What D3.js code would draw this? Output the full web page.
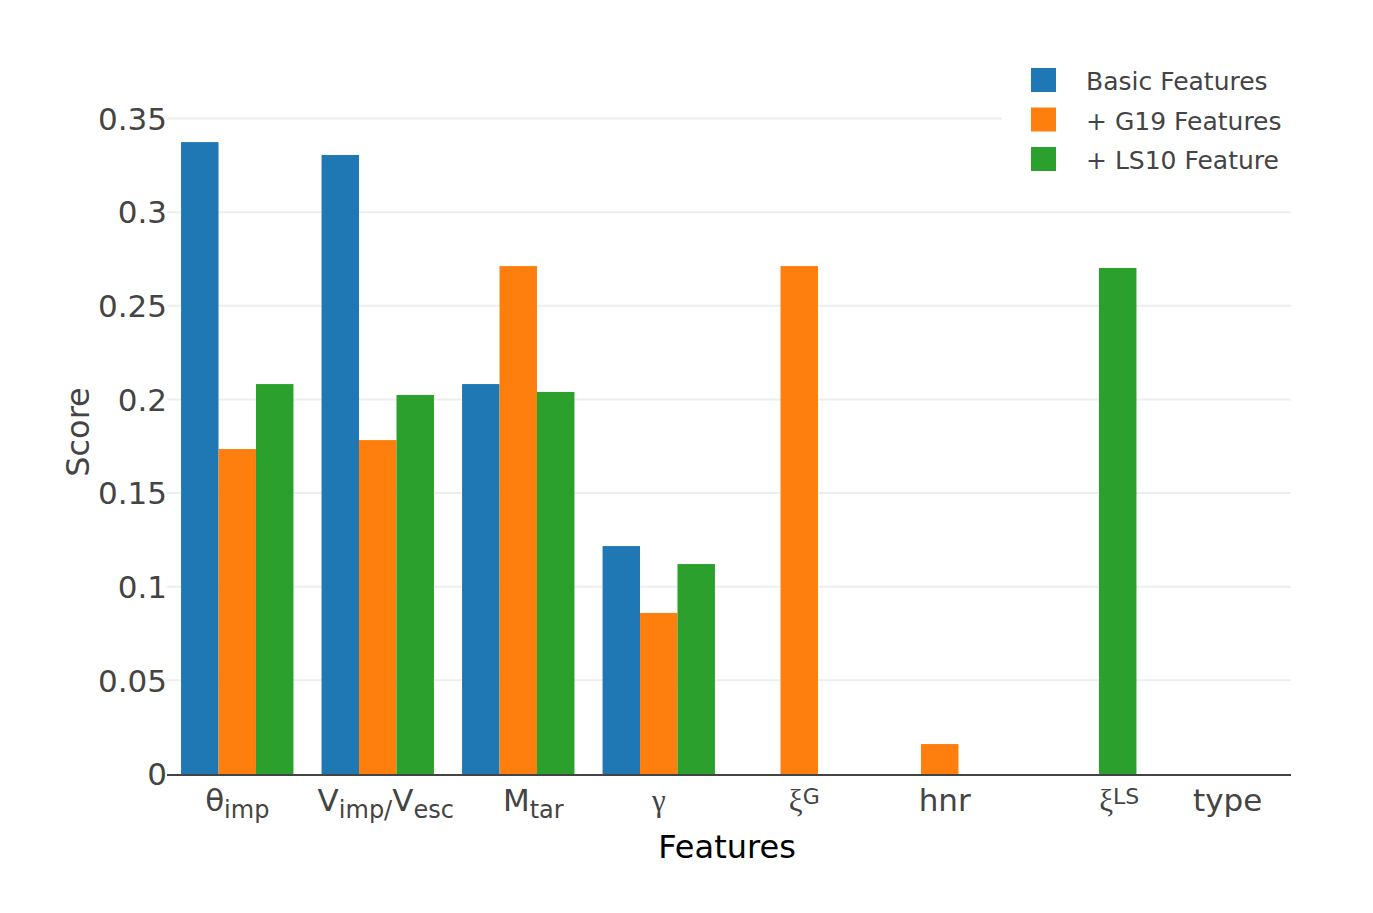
<!DOCTYPE html>
<html>
<head>
<meta charset="utf-8">
<script src="https://cdn.jsdelivr.net/npm/d3@7"></script>
<style>
  body { margin: 0; background: #fff; }
  svg text { font-family: "DejaVu Sans", Verdana, sans-serif; }
</style>
</head>
<body>
<div id="chart"></div>
<script>
// categories on the x axis (kept as plain keys, labels drawn with sub/superscripts below)
var categories = ["theta_imp", "v_ratio", "m_tar", "gamma", "xi_g", "hnr", "xi_ls", "type"];

// label pieces: [text, mode] where mode is "", "sub", "sup" or "greek"
var categoryLabels = [
  [["θ", ""], ["imp", "sub"]],
  [["V", ""], ["imp/", "sub"], ["V", ""], ["esc", "sub"]],
  [["M", ""], ["tar", "sub"]],
  [["γ", "greek"]],
  [["ξ", "greek"], ["G", "sup"]],
  [["hnr", ""]],
  [["ξ", "greek"], ["LS", "sup"]],
  [["type", ""]]
];

var seriesNames = ["Basic Features", "+ G19 Features", "+ LS10 Feature"];
var basicValues = [0.3374, 0.3305, 0.2082, 0.1217, 0, 0, 0, 0];
var g19Values   = [0.1735, 0.1783, 0.2712, 0.0860, 0.2712, 0.0160, 0, 0];
var ls10Values  = [0.2082, 0.2024, 0.2040, 0.1121, 0, 0, 0.2702, 0];
var yTicks = [0, 0.05, 0.1, 0.15, 0.2, 0.25, 0.3, 0.35];
var colors = ["#1f77b4", "#ff7f0e", "#2ca02c"];

// layout
var width = 1373, height = 913;
var margin = { top: 80, right: 82, bottom: 139, left: 167 };
var plotW = width - margin.left - margin.right,
    plotH = height - margin.top - margin.bottom;
// horizontal nudges of the x tick labels (the rendered math labels sit off-centre)
var labelNudge = [0, 8, 15, 0, 5, 5, 39, 7];

var svg = d3.select("#chart").append("svg")
  .attr("width", width)
  .attr("height", height);

var g = svg.append("g")
  .attr("transform", "translate(" + margin.left + "," + margin.top + ")");

// scales
var y = d3.scaleLinear()
  .domain([0, 0.35 * plotH / (plotH - 38.5)])
  .range([plotH, 0]);

var x = d3.scaleBand()
  .domain(categories)
  .range([0, plotW])
  .paddingInner(0.2)
  .paddingOuter(0.1);

var xInner = d3.scaleBand()
  .domain(seriesNames)
  .range([0, x.bandwidth()]);

// gridlines
g.append("g")
  .selectAll("line")
  .data(yTicks.filter(function (d) { return d > 0; }))
  .enter()
  .append("line")
  .attr("x1", 0)
  .attr("x2", plotW)
  .attr("y1", function (d) { return y(d); })
  .attr("y2", function (d) { return y(d); })
  .attr("stroke", "#eeeeee")
  .attr("stroke-width", 2);

// y tick labels
g.append("g")
  .selectAll("text")
  .data(yTicks)
  .enter()
  .append("text")
  .attr("x", 0)
  .attr("y", function (d) { return y(d); })
  .attr("dy", "0.36em")
  .attr("text-anchor", "end")
  .style("font-size", "31px")
  .style("fill", "#444")
  .text(function (d) { return d === 0 ? "0" : d3.format("")(+d.toFixed(2)); });

// bars
var allSeries = [basicValues, g19Values, ls10Values];
allSeries.forEach(function (vals, si) {
  g.append("g")
    .selectAll("rect")
    .data(vals)
    .enter()
    .append("rect")
    .attr("x", function (d, i) { return x(categories[i]) + xInner(seriesNames[si]); })
    .attr("y", function (d) { return y(d); })
    .attr("width", xInner.bandwidth())
    .attr("height", function (d) { return plotH - y(d); })
    .attr("fill", colors[si]);
});

// bottom axis line
g.append("line")
  .attr("x1", 0)
  .attr("x2", plotW)
  .attr("y1", plotH + 1)
  .attr("y2", plotH + 1)
  .attr("stroke", "#444")
  .attr("stroke-width", 2);

// x tick labels with sub/superscripts
var xl = g.append("g");
categories.forEach(function (c, i) {
  var t = xl.append("text")
    .attr("x", x(c) + x.bandwidth() / 2 + labelNudge[i])
    .attr("y", plotH + 37)
    .attr("text-anchor", "middle")
    .style("font-size", "31px")
    .style("fill", "#444");
  var shift = 0;
  categoryLabels[i].forEach(function (p) {
    var s = t.append("tspan").text(p[0]);
    var target = 0;
    if (p[1] === "sub") { s.style("font-size", "24px"); target = 7; }
    else if (p[1] === "sup") { s.style("font-size", "22px"); target = -7; }
    else if (p[1] === "greek") { s.style("font-family", "'Liberation Serif', serif"); }
    if (target !== shift) { s.attr("dy", target - shift); shift = target; }
  });
});

// axis titles
svg.append("text")
  .attr("x", margin.left + plotW / 2 - 2)
  .attr("y", 858)
  .attr("text-anchor", "middle")
  .style("font-size", "32px")
  .style("fill", "#000")
  .text("Features");

svg.append("text")
  .attr("transform", "translate(89," + (margin.top + plotH / 2 + 5) + ")rotate(-90)")
  .attr("text-anchor", "middle")
  .style("font-size", "32px")
  .style("fill", "#444")
  .text("Score");

// legend with white background
var legend = svg.append("g")
  .attr("transform", "translate(1002,56)");
legend.append("rect")
  .attr("width", 300)
  .attr("height", 126)
  .attr("fill", "#fff");
seriesNames.forEach(function (name, i) {
  var row = legend.append("g")
    .attr("transform", "translate(0," + (12 + i * 39.5) + ")");
  row.append("rect")
    .attr("x", 29)
    .attr("y", 0)
    .attr("width", 25)
    .attr("height", 24)
    .attr("fill", colors[i]);
  row.append("text")
    .attr("x", 84)
    .attr("y", 13)
    .attr("dy", "0.36em")
    .style("font-size", "25px")
    .style("fill", "#444")
    .text(name);
});
</script>
</body>
</html>
